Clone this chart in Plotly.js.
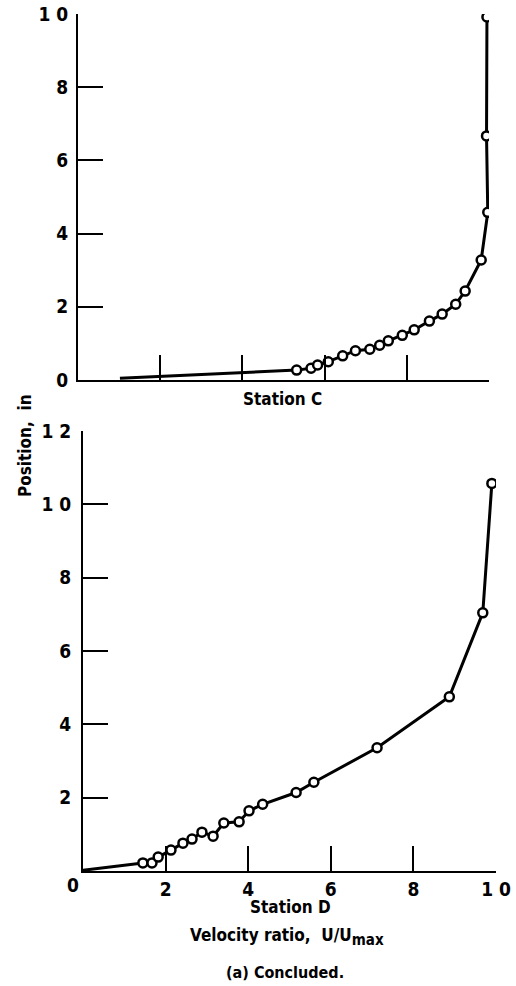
<!DOCTYPE html>
<html>
<head>
<meta charset="utf-8">
<script src="https://cdn.plot.ly/plotly-3.0.1.min.js"></script>
<style>
  html, body { margin: 0; padding: 0; background: #fff; }
  #chart { width: 516px; height: 986px; }
</style>
</head>
<body>
<div id="chart"></div>
<script>
// Station C (top panel): velocity ratio vs position
const stationC_x = [1.02, 5.32, 5.67, 5.83, 6.09, 6.44, 6.75, 7.10, 7.34, 7.55, 7.89, 8.18, 8.55, 8.86, 9.19, 9.42, 9.81, 9.97, 9.94, 9.95];
const stationC_y = [0.05, 0.27, 0.32, 0.41, 0.50, 0.66, 0.80, 0.84, 0.95, 1.07, 1.22, 1.37, 1.61, 1.80, 2.07, 2.43, 3.28, 4.58, 6.67, 9.92];

// Station D (bottom panel)
const stationD_x = [0.0, 1.45, 1.67, 1.82, 2.13, 2.42, 2.64, 2.88, 3.15, 3.41, 3.78, 4.02, 4.35, 5.16, 5.59, 7.12, 8.87, 9.68, 9.90];
const stationD_y = [0.02, 0.22, 0.22, 0.38, 0.57, 0.76, 0.87, 1.06, 0.95, 1.31, 1.34, 1.64, 1.82, 2.14, 2.42, 3.36, 4.75, 7.04, 10.57];

// Tick labels
const xTickVals = [2, 4, 6, 8, 10];
const xTickText = ["2", "4", "6", "8", "1 0"];
const originLabel = "0";
const yTickValsC = [0, 2, 4, 6, 8, 10];
const yTickTextC = ["0", "2", "4", "6", "8", "1 0"];
const yTickValsD = [2, 4, 6, 8, 10, 12];
const yTickTextD = ["2", "4", "6", "8", "1 0", "1 2"];

const tickFont = { family: "'DejaVu Sans Condensed', 'Liberation Sans Narrow', sans-serif", size: 19, color: "#000", weight: "bold" };
const textFont = { family: "'DejaVu Sans Condensed', 'Liberation Sans Narrow', sans-serif", size: 17, color: "#000", weight: "bold" };

const lineStyle = { color: "#000", width: 3 };
const markerStyle = { symbol: "circle", size: 9, color: "#fff", line: { color: "#000", width: 2.5 } };

const traces = [
  { x: stationC_x, y: stationC_y, xaxis: "x", yaxis: "y", mode: "lines", line: lineStyle, hoverinfo: "skip" },
  { x: stationC_x.slice(1), y: stationC_y.slice(1), xaxis: "x", yaxis: "y", mode: "markers", marker: markerStyle },
  { x: stationD_x, y: stationD_y, xaxis: "x2", yaxis: "y2", mode: "lines", line: lineStyle, hoverinfo: "skip" },
  { x: stationD_x.slice(1), y: stationD_y.slice(1), xaxis: "x2", yaxis: "y2", mode: "markers", marker: markerStyle }
];

const W = 516, H = 986;
const axBase = {
  showgrid: false, zeroline: false, showline: true, linecolor: "#000", linewidth: 2,
  ticks: "inside", ticklen: 25, tickwidth: 2, tickcolor: "#000", tickfont: tickFont,
  tickmode: "array", fixedrange: true
};

const layout = {
  width: W, height: H,
  margin: { l: 0, r: 0, t: 0, b: 0 },
  paper_bgcolor: "#fff", plot_bgcolor: "#fff",
  showlegend: false,
  xaxis: Object.assign({}, axBase, {
    domain: [78 / W, 489 / W], range: [0, 10], anchor: "y",
    tickvals: xTickVals, ticktext: xTickText, showticklabels: false
  }),
  yaxis: Object.assign({}, axBase, {
    domain: [1 - 380 / H, 1 - 14 / H], range: [0, 10], anchor: "x",
    tickvals: yTickValsC, ticktext: yTickTextC, ticklabelstandoff: 4
  }),
  xaxis2: Object.assign({}, axBase, {
    domain: [83 / W, 496 / W], range: [0, 10], anchor: "y2",
    tickvals: xTickVals, ticktext: xTickText, ticklabelstandoff: 0
  }),
  yaxis2: Object.assign({}, axBase, {
    domain: [1 - 871 / H, 1 - 431 / H], range: [0, 12], anchor: "x2",
    tickvals: yTickValsD, ticktext: yTickTextD, ticklabelstandoff: 6
  }),
  annotations: [
    { text: originLabel, x: 73 / W, y: 1 - 885 / H, xref: "paper", yref: "paper", showarrow: false, font: tickFont, xanchor: "center", yanchor: "middle" },
    { text: "Station C", x: 282 / W, y: 1 - 399 / H, xref: "paper", yref: "paper", showarrow: false, font: textFont, xanchor: "center", yanchor: "middle" },
    { text: "Station D", x: 290 / W, y: 1 - 907 / H, xref: "paper", yref: "paper", showarrow: false, font: textFont, xanchor: "center", yanchor: "middle" },
    { text: "Velocity ratio,  U/U<sub><span style='font-size:15px'>max</span></sub>", x: 287 / W, y: 1 - 937 / H, xref: "paper", yref: "paper", showarrow: false, font: textFont, xanchor: "center", yanchor: "middle" },
    { text: "(a) Concluded.", x: 285 / W, y: 1 - 972 / H, xref: "paper", yref: "paper", showarrow: false, font: Object.assign({}, textFont, { size: 16 }), xanchor: "center", yanchor: "middle" },
    { text: "Position,  in", x: 25 / W, y: 1 - 446 / H, xref: "paper", yref: "paper", showarrow: false, font: textFont, textangle: -90, xanchor: "center", yanchor: "middle" }
  ]
};

Plotly.newPlot("chart", traces, layout, { staticPlot: true, displayModeBar: false });
</script>
</body>
</html>
